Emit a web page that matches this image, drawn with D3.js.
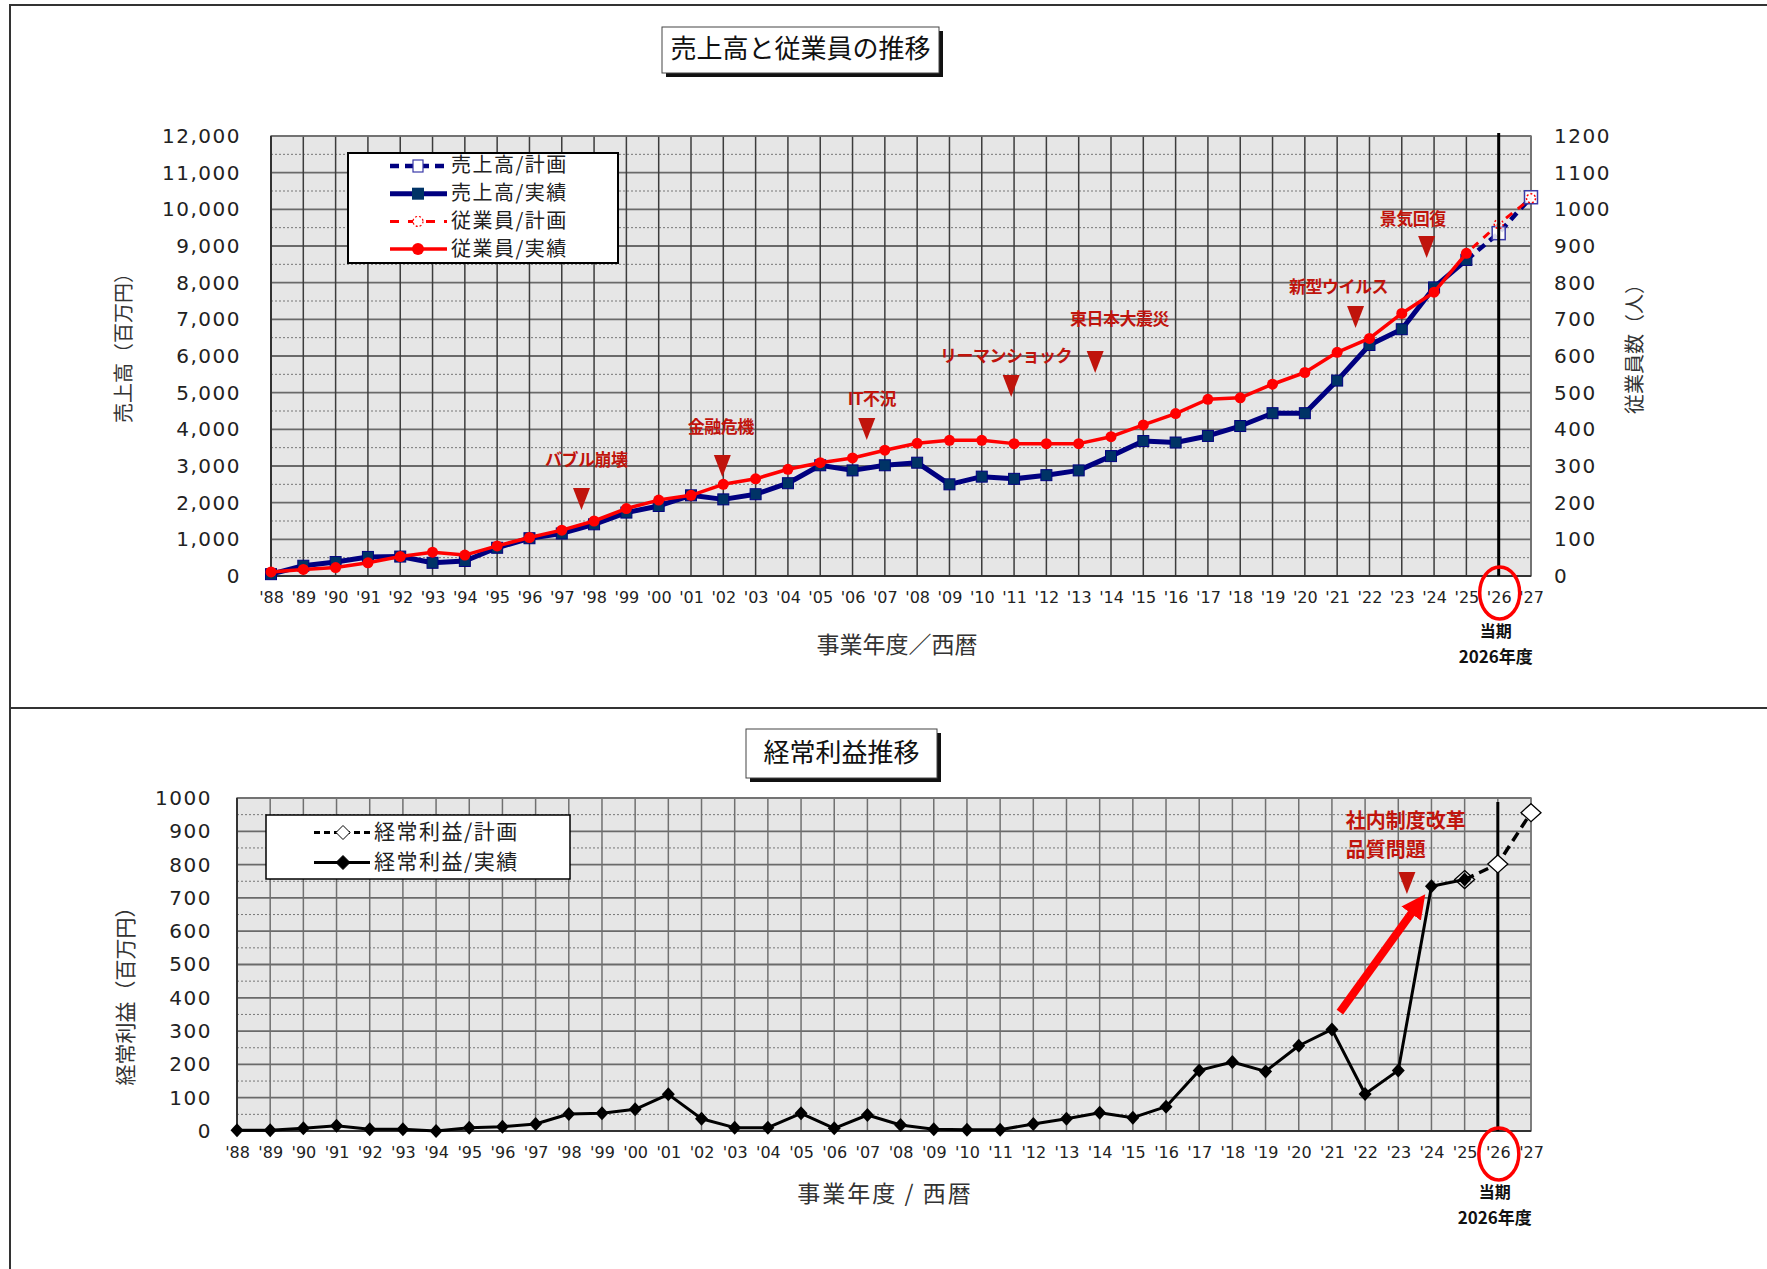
<!DOCTYPE html>
<html>
<head>
<meta charset="utf-8">
<script src="https://cdn.jsdelivr.net/npm/d3@7"></script>
<style>
body { margin: 0; background: #fff; }
</style>
</head>
<body>
<svg id="chart" width="1767" height="1269"></svg>
<script>
// Year labels along the x axis ('88 .. '27)
var yearLabels = ["'88","'89","'90","'91","'92","'93","'94","'95","'96","'97",
	"'98","'99","'00","'01","'02","'03","'04","'05","'06","'07",
	"'08","'09","'10","'11","'12","'13","'14","'15","'16","'17",
	"'18","'19","'20","'21","'22","'23","'24","'25","'26","'27"];

// Sales, million yen ('88 .. '25 actual)
var salesActual = [50, 280, 380, 520, 530, 360, 410, 770, 1030, 1160,
	1410, 1730, 1910, 2200, 2090, 2230, 2530, 3020, 2880, 3020,
	3090, 2500, 2710, 2650, 2750, 2880, 3270, 3680, 3640, 3820,
	4090, 4440, 4440, 5330, 6300, 6730, 7870, 8620];
// Sales plan ('25 .. '27)
var salesPlan = [8620, 9350, 10330];

// Employees ('88 .. '25 actual)
var employeesActual = [11, 18, 23, 36, 53, 65, 57, 82, 105, 125,
	150, 184, 207, 220, 250, 265, 291, 309, 322, 343,
	362, 370, 370, 361, 361, 361, 380, 412, 443, 482,
	486, 523, 555, 610, 648, 716, 774, 880];
// Employees plan ('25 .. '27)
var employeesPlan = [880, 960, 1030];

// Ordinary profit, million yen ('88 .. '25 actual)
var profitActual = [2, 2, 8, 16, 5, 5, 0, 10, 13, 21,
	51, 53, 65, 110, 37, 10, 10, 53, 8, 48,
	18, 5, 4, 4, 21, 37, 55, 40, 73, 182,
	207, 179, 256, 305, 111, 182, 735, 755];
// Ordinary profit plan ('25 .. '27)
var profitPlan = [755, 802, 956];

// index of first plan year ('25) and the current year ('26)
var planStart = 37;
var currentIndex = 38;

// Events on the sales chart (x in year index, values in million yen)
var salesEvents = [
	{label: 'バブル崩壊', x: 9.61, tip: 1800, tx: 9.76, ty: 3136},
	{label: '金融危機', x: 13.97, tip: 2700, tx: 13.92, ty: 4036},
	{label: 'IT不況', x: 18.44, tip: 3709, tx: 18.6, ty: 4800},
	{label: 'リーマンショック', x: 22.91, tip: 4882, tx: 22.75, ty: 5973},
	{label: '東日本大震災', x: 25.51, tip: 5536, tx: 26.26, ty: 6982},
	{label: '新型ウイルス', x: 33.57, tip: 6764, tx: 33.04, ty: 7855},
	{label: '景気回復', x: 35.77, tip: 8673, tx: 35.34, ty: 9709}
];

// Events on the profit chart
var profitNotes = [
	{label: '社内制度改革', x: 33.42, y: 925},
	{label: '品質問題', x: 33.42, y: 838}
];
var profitMarker = {x: 35.26, tip: 712};
var profitArrow = {x1: 33.24, y1: 357, x2: 35.6, y2: 682};

var jp = "'Noto Sans CJK JP', sans-serif";
var num = "'DejaVu Sans', sans-serif";
var darkRed = '#c0140c';

var svg = d3.select('#chart');
svg.append('rect').attr('width', 1767).attr('height', 1269).attr('fill', '#fff');

// panel frame
svg.append('path')
	.attr('d', 'M10,1269 L10,5 L1767,5 M10,708 L1767,708')
	.attr('fill', 'none').attr('stroke', '#333').attr('stroke-width', 2);

// Title box with drop shadow
function titleBox(x0, y0, w, h, text) {
	svg.append('rect').attr('x', x0 + 4).attr('y', y0 + 4).attr('width', w).attr('height', h).attr('fill', '#111');
	svg.append('rect').attr('x', x0).attr('y', y0).attr('width', w).attr('height', h)
		.attr('fill', '#fff').attr('stroke', '#444').attr('stroke-width', 1);
	svg.append('text').attr('x', x0 + w / 2).attr('y', y0 + h / 2 + 1)
		.attr('text-anchor', 'middle').attr('dominant-baseline', 'middle')
		.style('font-family', jp).style('font-size', '26px').style('fill', '#111')
		.text(text);
}

// Background and grid
function drawGrid(x, y, majorTicks, minorTicks, vColor, hColor) {
	var r = x.range(), d = y.range();
	svg.append('rect').attr('x', r[0]).attr('y', d[1]).attr('width', r[1] - r[0]).attr('height', d[0] - d[1])
		.attr('fill', '#e6e6e6');
	svg.append('g').selectAll('line').data(minorTicks).enter().append('line')
		.attr('x1', r[0]).attr('x2', r[1]).attr('y1', y).attr('y2', y)
		.attr('stroke', '#777').attr('stroke-width', 1).attr('stroke-dasharray', '2,2');
	svg.append('g').selectAll('line').data(majorTicks).enter().append('line')
		.attr('x1', r[0]).attr('x2', r[1]).attr('y1', y).attr('y2', y)
		.attr('stroke', hColor).attr('stroke-width', 1.8);
	svg.append('g').selectAll('line').data(d3.range(yearLabels.length)).enter().append('line')
		.attr('x1', x).attr('x2', x).attr('y1', d[1]).attr('y2', d[0])
		.attr('stroke', vColor).attr('stroke-width', 1.5);
	svg.append('rect').attr('x', r[0]).attr('y', d[1]).attr('width', r[1] - r[0]).attr('height', d[0] - d[1])
		.attr('fill', 'none').attr('stroke', '#777').attr('stroke-width', 1.5);
	svg.append('path').attr('d', 'M' + r[0] + ',' + d[1] + ' L' + r[0] + ',' + d[0] + ' L' + r[1] + ',' + d[0])
		.attr('fill', 'none').attr('stroke', '#333').attr('stroke-width', 2);
}

function xAxis(x, yPos) {
	var g = svg.append('g').attr('transform', 'translate(0,' + yPos + ')')
		.call(d3.axisBottom(x).tickValues(d3.range(yearLabels.length))
			.tickFormat(function(i) { return yearLabels[i]; }).tickSize(0).tickPadding(16));
	g.select('.domain').remove();
	g.selectAll('text').style('font-family', num).style('font-size', '16px').style('fill', '#222');
}

function yAxis(axis, xPos) {
	var g = svg.append('g').attr('transform', 'translate(' + xPos + ',0)').call(axis);
	g.select('.domain').remove();
	g.selectAll('text').style('font-family', num).style('font-size', '20px')
		.style('letter-spacing', '1.5px').style('fill', '#222');
}

function vTitle(cx, cy, text, size) {
	svg.append('text').attr('transform', 'translate(' + cx + ',' + cy + ') rotate(-90)')
		.attr('text-anchor', 'middle').attr('dominant-baseline', 'middle')
		.style('font-family', jp).style('font-size', size + 'px').style('fill', '#333')
		.text(text);
}

function hTitle(cx, cy, text, spacing) {
	svg.append('text').attr('x', cx).attr('y', cy)
		.attr('text-anchor', 'middle').attr('dominant-baseline', 'middle')
		.style('font-family', jp).style('font-size', '23px').style('letter-spacing', spacing + 'px')
		.style('fill', '#333')
		.text(text);
}

// Current-year marker: vertical line, red ellipse and label
function currentMark(x, yTop, yBottom, labelY) {
	svg.append('line').attr('x1', x(currentIndex)).attr('x2', x(currentIndex))
		.attr('y1', yTop).attr('y2', yBottom).attr('stroke', '#000').attr('stroke-width', 3);
	svg.append('ellipse').attr('cx', x(currentIndex) + 1).attr('cy', labelY)
		.attr('rx', 20).attr('ry', 26).attr('fill', 'none').attr('stroke', '#f00').attr('stroke-width', 3.5);
	svg.append('text').attr('x', x(currentIndex) - 3).attr('y', labelY + 40)
		.attr('text-anchor', 'middle').attr('dominant-baseline', 'middle')
		.style('font-family', jp).style('font-weight', 'bold').style('font-size', '16px').style('fill', '#111')
		.text('当期');
	svg.append('text').attr('x', x(currentIndex) - 3).attr('y', labelY + 65)
		.attr('text-anchor', 'middle').attr('dominant-baseline', 'middle')
		.style('font-family', jp).style('font-weight', 'bold').style('font-size', '17px').style('fill', '#111')
		.text('2026年度');
}

function triangle(cx, tipY) {
	return 'M' + (cx - 8.5) + ',' + (tipY - 22) + ' L' + (cx + 8.5) + ',' + (tipY - 22) + ' L' + cx + ',' + tipY + 'Z';
}

function diamond(cx, cy, hw, hh) {
	return 'M' + cx + ',' + (cy - hh) + ' L' + (cx + hw) + ',' + cy + ' L' + cx + ',' + (cy + hh) + ' L' + (cx - hw) + ',' + cy + 'Z';
}

// ===================== Sales & employees chart =====================
var x1 = d3.scaleLinear().domain([0, yearLabels.length - 1]).range([271, 1531]);
var ySales = d3.scaleLinear().domain([0, 12000]).range([576, 136]);
var yEmp = d3.scaleLinear().domain([0, 1200]).range([576, 136]);

titleBox(662, 27, 277, 46, '売上高と従業員の推移');

drawGrid(x1, ySales, ySales.ticks(12),
	ySales.ticks(24).filter(function(d) { return d % 1000 != 0; }), '#3c3c3c', '#6a6a6a');

yAxis(d3.axisLeft(ySales).ticks(12).tickFormat(d3.format(',')).tickSize(0).tickPadding(30), 271);
yAxis(d3.axisRight(yEmp).ticks(12).tickFormat(d3.format('d')).tickSize(0).tickPadding(23), 1531);
xAxis(x1, 576);

vTitle(126, 343, '売上高（百万円）', 20);
vTitle(1637, 344, '従業員数（人）', 20);
hTitle(897, 647, '事業年度／西暦', 0);

var salesLine = d3.line().x(function(d, i) { return x1(i); }).y(function(d) { return ySales(d); });
var empLine = d3.line().x(function(d, i) { return x1(i); }).y(function(d) { return yEmp(d); });
var salesPlanLine = d3.line().x(function(d, i) { return x1(planStart + i); }).y(function(d) { return ySales(d); });
var empPlanLine = d3.line().x(function(d, i) { return x1(planStart + i); }).y(function(d) { return yEmp(d); });

// plan (dashed)
svg.append('path').attr('d', salesPlanLine(salesPlan)).attr('fill', 'none')
	.attr('stroke', '#000080').attr('stroke-width', 4.5).attr('stroke-dasharray', '9,6');
svg.append('path').attr('d', empPlanLine(employeesPlan)).attr('fill', 'none')
	.attr('stroke', '#ff0000').attr('stroke-width', 3).attr('stroke-dasharray', '8,7').attr('stroke-dashoffset', 7);

// actual sales
svg.append('path').attr('d', salesLine(salesActual)).attr('fill', 'none')
	.attr('stroke', '#000080').attr('stroke-width', 5).attr('stroke-linejoin', 'round');
svg.append('g').selectAll('rect').data(salesActual).enter().append('rect')
	.attr('x', function(d, i) { return x1(i) - 5.5; }).attr('y', function(d) { return ySales(d) - 5.5; })
	.attr('width', 11).attr('height', 11).attr('fill', '#003366').attr('stroke', '#000080').attr('stroke-width', 1);

// actual employees
svg.append('path').attr('d', empLine(employeesActual)).attr('fill', 'none')
	.attr('stroke', '#ff0000').attr('stroke-width', 3.5).attr('stroke-linejoin', 'round');
svg.append('g').selectAll('circle').data(employeesActual).enter().append('circle')
	.attr('cx', function(d, i) { return x1(i); }).attr('cy', function(d) { return yEmp(d); })
	.attr('r', 5.5).attr('fill', '#ff0000');

// plan markers
svg.append('g').selectAll('rect').data(salesPlan.slice(1)).enter().append('rect')
	.attr('x', function(d, i) { return x1(planStart + 1 + i) - 6.5; }).attr('y', function(d) { return ySales(d) - 6.5; })
	.attr('width', 13).attr('height', 13).attr('fill', '#fff').attr('fill-opacity', 0.85)
	.attr('stroke', '#3a3aa8').attr('stroke-width', 1.5);
svg.append('g').selectAll('circle').data(employeesPlan.slice(1)).enter().append('circle')
	.attr('cx', function(d, i) { return x1(planStart + 1 + i); }).attr('cy', function(d) { return yEmp(d); })
	.attr('r', 4.5).attr('fill', '#fff').attr('fill-opacity', 0.6)
	.attr('stroke', '#ff0000').attr('stroke-width', 1.5).attr('stroke-dasharray', '2,2');

currentMark(x1, 133, 576, 593);

// event annotations
svg.append('g').selectAll('path').data(salesEvents).enter().append('path')
	.attr('d', function(d) { return triangle(x1(d.x), ySales(d.tip)); })
	.attr('fill', darkRed);
svg.append('g').selectAll('text').data(salesEvents).enter().append('text')
	.attr('x', function(d) { return x1(d.tx); }).attr('y', function(d) { return ySales(d.ty); })
	.attr('text-anchor', 'middle').attr('dominant-baseline', 'middle')
	.style('font-family', jp).style('font-weight', 'bold').style('font-size', '17px')
	.style('letter-spacing', '-0.5px').style('fill', darkRed)
	.text(function(d) { return d.label; });

// legend
var legend1 = [
	{label: '売上高/計画', color: '#000080', width: 4.5, dash: '9,6', marker: 'planSquare'},
	{label: '売上高/実績', color: '#000080', width: 5, dash: null, marker: 'square'},
	{label: '従業員/計画', color: '#ff0000', width: 3, dash: '9,9', marker: 'planCircle'},
	{label: '従業員/実績', color: '#ff0000', width: 3.5, dash: null, marker: 'circle'}
];
svg.append('rect').attr('x', 348).attr('y', 153).attr('width', 270).attr('height', 110)
	.attr('fill', '#fff').attr('stroke', '#000').attr('stroke-width', 2);
var lg1 = svg.append('g').selectAll('g').data(legend1).enter().append('g')
	.attr('transform', function(d, i) { return 'translate(0,' + (166 + i * 27.7) + ')'; });
lg1.append('line').attr('x1', 390).attr('x2', 447).attr('y1', 0).attr('y2', 0)
	.attr('stroke', function(d) { return d.color; }).attr('stroke-width', function(d) { return d.width; })
	.attr('stroke-dasharray', function(d) { return d.dash; });
lg1.each(function(d) {
	var g = d3.select(this);
	if (d.marker == 'square') {
		g.append('rect').attr('x', 412).attr('y', -6).attr('width', 12).attr('height', 12).attr('fill', '#003366');
	} else if (d.marker == 'planSquare') {
		g.append('rect').attr('x', 413).attr('y', -6).attr('width', 10).attr('height', 12)
			.attr('fill', '#fff').attr('stroke', '#3a3aa8').attr('stroke-width', 1.2);
	} else if (d.marker == 'circle') {
		g.append('circle').attr('cx', 418).attr('cy', 0).attr('r', 6).attr('fill', '#ff0000');
	} else {
		g.append('circle').attr('cx', 418).attr('cy', 0).attr('r', 5).attr('fill', '#fff')
			.attr('stroke', '#ff0000').attr('stroke-width', 1.2).attr('stroke-dasharray', '2,2');
	}
});
lg1.append('text').attr('x', 451).attr('y', 1).attr('dominant-baseline', 'middle')
	.style('font-family', jp).style('font-size', '20px').style('letter-spacing', '1.5px').style('fill', '#222')
	.text(function(d) { return d.label; });

// ===================== Ordinary profit chart =====================
var x2 = d3.scaleLinear().domain([0, yearLabels.length - 1]).range([237, 1531]);
var yProfit = d3.scaleLinear().domain([0, 1000]).range([1131, 798]);

titleBox(746, 729, 191, 49, '経常利益推移');

drawGrid(x2, yProfit, yProfit.ticks(10),
	yProfit.ticks(20).filter(function(d) { return d % 100 != 0; }), '#707070', '#6a6a6a');

yAxis(d3.axisLeft(yProfit).ticks(10).tickFormat(d3.format('d')).tickSize(0).tickPadding(25), 237);
xAxis(x2, 1131);

vTitle(127, 991, '経常利益（百万円）', 21);
hTitle(885, 1196, '事業年度 / 西暦', 2);

var profitLine = d3.line().x(function(d, i) { return x2(i); }).y(function(d) { return yProfit(d); });
var profitPlanLine = d3.line().x(function(d, i) { return x2(planStart + i); }).y(function(d) { return yProfit(d); });

svg.append('path').attr('d', profitPlanLine(profitPlan)).attr('fill', 'none')
	.attr('stroke', '#000').attr('stroke-width', 3.5).attr('stroke-dasharray', '10,6');
svg.append('path').attr('d', profitLine(profitActual)).attr('fill', 'none')
	.attr('stroke', '#000').attr('stroke-width', 3).attr('stroke-linejoin', 'round');
svg.append('g').selectAll('path').data(profitActual).enter().append('path')
	.attr('d', function(d, i) { return diamond(x2(i), yProfit(d), 6.5, 7); })
	.attr('fill', '#000');

// red arrow
svg.append('defs').append('marker').attr('id', 'arrowHead')
	.attr('viewBox', '0 0 10 10').attr('refX', 5).attr('refY', 5)
	.attr('markerWidth', 3).attr('markerHeight', 3).attr('orient', 'auto')
	.append('path').attr('d', 'M0,0 L10,5 L0,10 Z').attr('fill', '#ff0000');
svg.append('line')
	.attr('x1', x2(profitArrow.x1)).attr('y1', yProfit(profitArrow.y1))
	.attr('x2', x2(profitArrow.x2)).attr('y2', yProfit(profitArrow.y2))
	.attr('stroke', '#ff0000').attr('stroke-width', 8).attr('marker-end', 'url(#arrowHead)');

currentMark(x2, 802, 1131, 1154);

// plan diamonds drawn on top of the current-year line
svg.append('g').selectAll('path').data(profitPlan).enter().append('path')
	.attr('d', function(d, i) { return diamond(x2(planStart + i), yProfit(d), 10, 9); })
	.attr('fill', '#fff').attr('fill-opacity', function(d, i) { return i == 0 ? 0 : 1; })
	.attr('stroke', '#000').attr('stroke-width', 1.3);

// notes
svg.append('path').attr('d', triangle(x2(profitMarker.x), yProfit(profitMarker.tip))).attr('fill', darkRed);
svg.append('g').selectAll('text').data(profitNotes).enter().append('text')
	.attr('x', function(d) { return x2(d.x); }).attr('y', function(d) { return yProfit(d.y); })
	.attr('dominant-baseline', 'middle')
	.style('font-family', jp).style('font-weight', 'bold').style('font-size', '20px').style('fill', darkRed)
	.text(function(d) { return d.label; });

// legend
var legend2 = [
	{label: '経常利益/計画', dash: '6,4', hollow: true},
	{label: '経常利益/実績', dash: null, hollow: false}
];
svg.append('rect').attr('x', 266).attr('y', 815).attr('width', 304).attr('height', 64)
	.attr('fill', '#fff').attr('stroke', '#000').attr('stroke-width', 1.5);
var lg2 = svg.append('g').selectAll('g').data(legend2).enter().append('g')
	.attr('transform', function(d, i) { return 'translate(0,' + (832.5 + i * 30) + ')'; });
lg2.append('line').attr('x1', 314).attr('x2', 370).attr('y1', 0).attr('y2', 0)
	.attr('stroke', '#000').attr('stroke-width', 3)
	.attr('stroke-dasharray', function(d) { return d.dash; });
lg2.append('path').attr('d', diamond(343, 0, 7, 7))
	.attr('fill', function(d) { return d.hollow ? '#fff' : '#000'; })
	.attr('stroke', '#000').attr('stroke-width', 1);
lg2.append('text').attr('x', 374).attr('y', 1).attr('dominant-baseline', 'middle')
	.style('font-family', jp).style('font-size', '21px').style('letter-spacing', '1.5px').style('fill', '#222')
	.text(function(d) { return d.label; });
</script>
</body>
</html>
